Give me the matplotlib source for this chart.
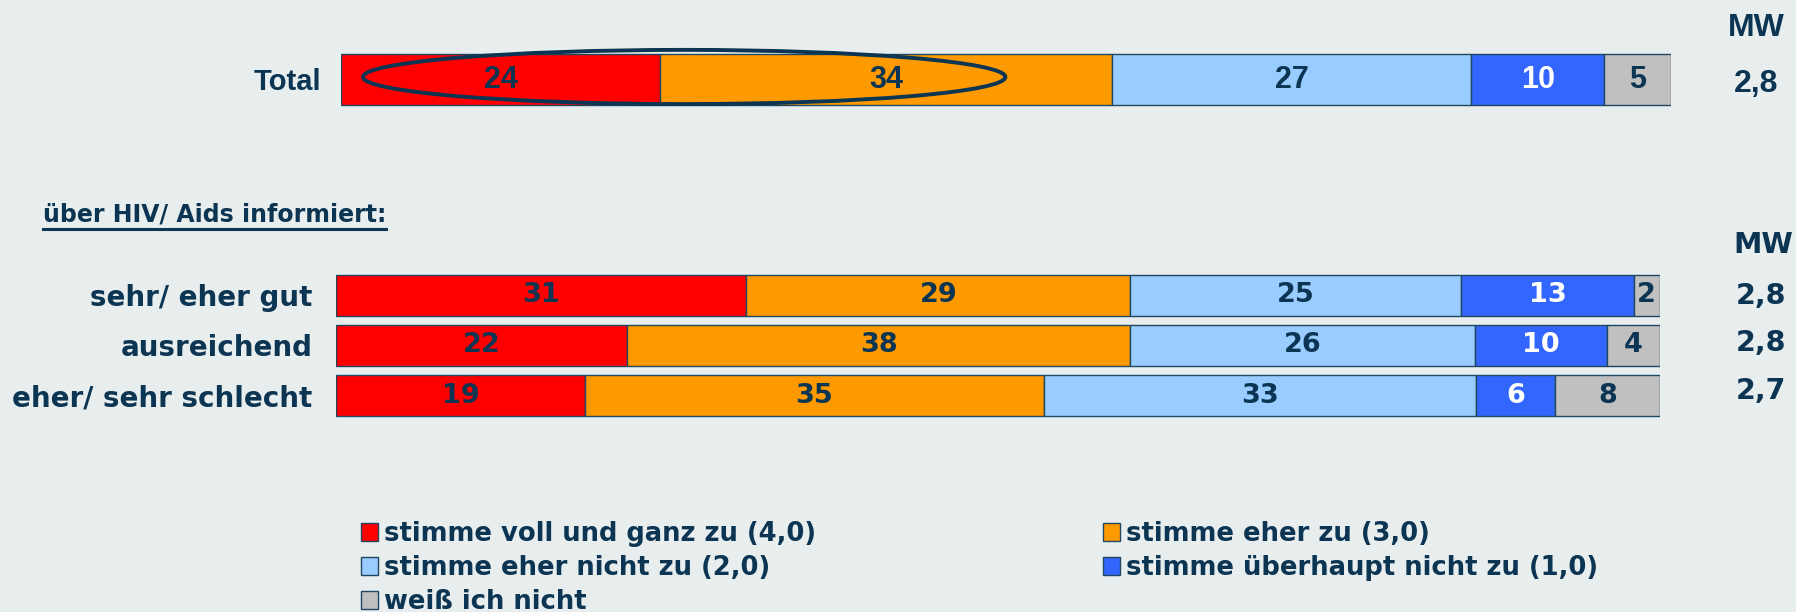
import numpy as np
import matplotlib
matplotlib.use("Agg")
import matplotlib.pyplot as plt
from matplotlib.patches import Patch, Ellipse
from matplotlib.lines import Line2D

# data
answers = ["stimme voll und ganz zu (4,0)", "stimme eher zu (3,0)",
           "stimme eher nicht zu (2,0)", "stimme überhaupt nicht zu (1,0)",
           "weiß ich nicht"]
colors = ["#ff0000", "#ff9900", "#99ccff", "#3366ff", "#c0c0c0"]
label_colors = ["#0b3552", "#0b3552", "#0b3552", "#ffffff", "#0b3552"]

total_label = "Total"
total_values = [24, 34, 27, 10, 5]
total_mw = "2,8"

groups = ["sehr/ eher gut", "ausreichend", "eher/ sehr schlecht"]
voll = [31, 22, 19]
eher = [29, 38, 35]
eher_nicht = [25, 26, 33]
ueberhaupt = [13, 10, 6]
weiss = [2, 4, 8]
group_mw = ["2,8", "2,8", "2,7"]
group_title = "über HIV/ Aids informiert:"

BG = "#e8edee"
TXT = "#0b3552"
EDGE = "#1f4860"
NARROW = ["Liberation Sans Narrow", "Liberation Sans", "DejaVu Sans"]
WIDE = ["DejaVu Sans"]

W, H = 1796, 612
fig = plt.figure(figsize=(W / 100, H / 100), dpi=100, facecolor=BG)


def px_axes(x0, y0, x1, y1):
    # figure pixel box (top-left origin) -> axes
    return fig.add_axes([x0 / W, 1 - y1 / H, (x1 - x0) / W, (y1 - y0) / H])


def stacked(ax, rows, labels, font, fsize):
    rows = np.array(rows, dtype=float)
    widths = rows / rows.sum(axis=1, keepdims=True) * 100
    y = np.arange(len(labels))
    left = np.zeros(len(labels))
    for k in range(rows.shape[1]):
        bars = ax.barh(y, widths[:, k], left=left, height=0.82, color=colors[k],
                       edgecolor=EDGE, linewidth=1.0)
        for b, v in zip(bars, rows[:, k]):
            ax.text(b.get_x() + b.get_width() / 2, b.get_y() + b.get_height() / 2,
                    f"{int(v)}", ha="center", va="center", color=label_colors[k],
                    fontsize=fsize, fontweight="bold", family=font)
        left += widths[:, k]
    ax.set_xlim(0, 100)
    ax.set_ylim(len(labels) - 0.5, -0.5)
    ax.set_facecolor("none")
    for s in ax.spines.values():
        s.set_visible(False)
    ax.set_xticks([])
    ax.set_yticks(y)
    ax.tick_params(length=0)
    return y


# Total bar
ax1 = px_axes(341, 48, 1671, 111)
stacked(ax1, [total_values], [total_label], NARROW, 22)
ax1.set_yticklabels([total_label], fontsize=21, fontweight="bold", color=TXT, family=NARROW)
ax1.tick_params(axis="y", pad=14)
ax1.add_patch(Ellipse((25.8, -0.04), 48.3, 0.86, fill=False, edgecolor=TXT,
                      linewidth=2.8, clip_on=False, zorder=5))
ax1.text(1.064, 0.07, total_mw, transform=ax1.get_yaxis_transform(), ha="center",
         va="center", fontsize=23, fontweight="bold", color=TXT, family=NARROW)
ax1.text(1.064, -0.82, "MW", transform=ax1.get_yaxis_transform(), ha="center",
         va="center", fontsize=23, fontweight="bold", color=TXT, family=NARROW)

# groups
ax2 = px_axes(336, 270, 1660, 421)
rows = np.column_stack([voll, eher, eher_nicht, ueberhaupt, weiss])
stacked(ax2, rows, groups, WIDE, 19.5)
ax2.set_yticklabels(groups, fontsize=20, fontweight="bold", color=TXT, family=WIDE)
ax2.tick_params(axis="y", pad=17)
for i, m in enumerate(group_mw):
    ax2.text(1.076, i + 0.02 - 0.06 * i, m, transform=ax2.get_yaxis_transform(),
             ha="center", va="center", fontsize=20.5, fontweight="bold", color=TXT,
             family=WIDE)
ax2.text(1.078, -1.0, "MW", transform=ax2.get_yaxis_transform(), ha="center",
         va="center", fontsize=20.5, fontweight="bold", color=TXT, family=WIDE)

title = fig.text(43 / W, 1 - 215 / H, group_title, ha="left", va="center",
                 fontsize=17, fontweight="bold", color=TXT, family=WIDE)

# legend
handles = [Patch(facecolor=colors[k], edgecolor=EDGE, linewidth=1.0) for k in range(5)]
order = [0, 2, 4, 1, 3]
leg = fig.legend([handles[k] for k in order], [answers[k] for k in order],
                 ncol=2, loc="upper left", bbox_to_anchor=(361 / W, 1 - 521 / H),
                 frameon=False, borderpad=0, borderaxespad=0,
                 handlelength=0.65, handleheight=0.65, handletextpad=0.25,
                 labelspacing=0.31, columnspacing=11.1,
                 prop={"family": WIDE, "weight": "bold", "size": 18.6})
for t in leg.get_texts():
    t.set_color(TXT)

# underline the group title
fig.canvas.draw()
bb = title.get_window_extent(fig.canvas.get_renderer())
bb = bb.transformed(fig.transFigure.inverted())
fig.add_artist(Line2D([bb.x0, bb.x1], [bb.y0 - 0.004, bb.y0 - 0.004],
                      transform=fig.transFigure, color=TXT, linewidth=2.2))

fig.savefig("out.png", dpi=100, facecolor=BG)
